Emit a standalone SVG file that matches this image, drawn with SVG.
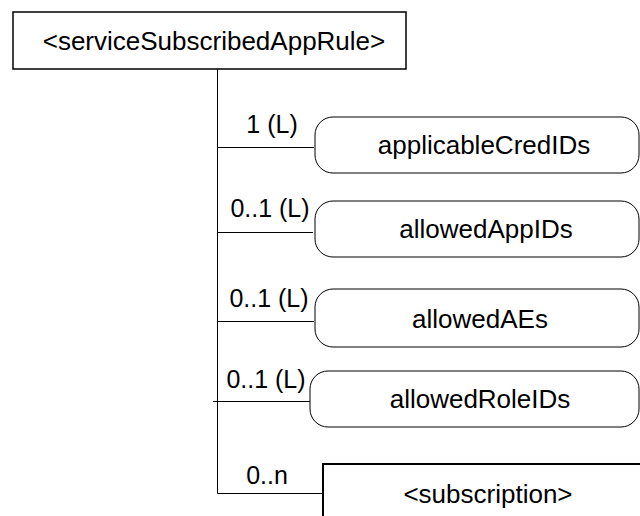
<svg xmlns="http://www.w3.org/2000/svg" width="640" height="516" viewBox="0 0 640 516">
<style>
text{font-family:"Liberation Sans",Arial,sans-serif;fill:#000}
.t{font-size:26px;text-anchor:middle}
.l{font-size:25px;text-anchor:middle}
.box{fill:#fff;stroke:#000;stroke-width:1.5}
.rbox{fill:#fff;stroke:#000;stroke-width:1}
.c{stroke:#000;stroke-width:1;fill:none}
</style>
<rect width="640" height="516" fill="#fff"/>
<g id="connectors">
<path class="c" d="M217.5 69 V493.5 H323"/>
<path class="c" d="M217 147.5 H314"/>
<path class="c" d="M217 232.5 H313"/>
<path class="c" d="M217 321.5 H314"/>
<path class="c" d="M213 401.5 H310"/>
<text class="l" x="272" y="133">1 (L)</text>
<text class="l" x="270" y="217">0..1 (L)</text>
<text class="l" x="269" y="307">0..1 (L)</text>
<text class="l" x="266" y="388">0..1 (L)</text>
<text class="l" x="267" y="484">0..n</text>
</g>
<g id="serviceSubscribedAppRule">
<rect class="box" x="13" y="12" width="393" height="57"/>
<text class="t" x="214" y="50">&lt;serviceSubscribedAppRule&gt;</text>
</g>
<g id="applicableCredIDs">
<rect class="rbox" x="315" y="117" width="324" height="56" rx="18" ry="18"/>
<text class="t" x="484" y="154">applicableCredIDs</text>
</g>
<g id="allowedAppIDs">
<rect class="rbox" x="315" y="201" width="324" height="56" rx="18" ry="18"/>
<text class="t" x="486" y="238">allowedAppIDs</text>
</g>
<g id="allowedAEs">
<rect class="rbox" x="315" y="289" width="324" height="58" rx="18" ry="18"/>
<text class="t" x="480" y="328">allowedAEs</text>
</g>
<g id="allowedRoleIDs">
<rect class="rbox" x="310" y="371" width="329" height="56" rx="18" ry="18"/>
<text class="t" x="480" y="408">allowedRoleIDs</text>
</g>
<g id="subscription">
<rect class="box" x="323" y="464" width="330" height="70" style="stroke-width:2"/>
<text class="t" x="488" y="503">&lt;subscription&gt;</text>
</g>
</svg>
